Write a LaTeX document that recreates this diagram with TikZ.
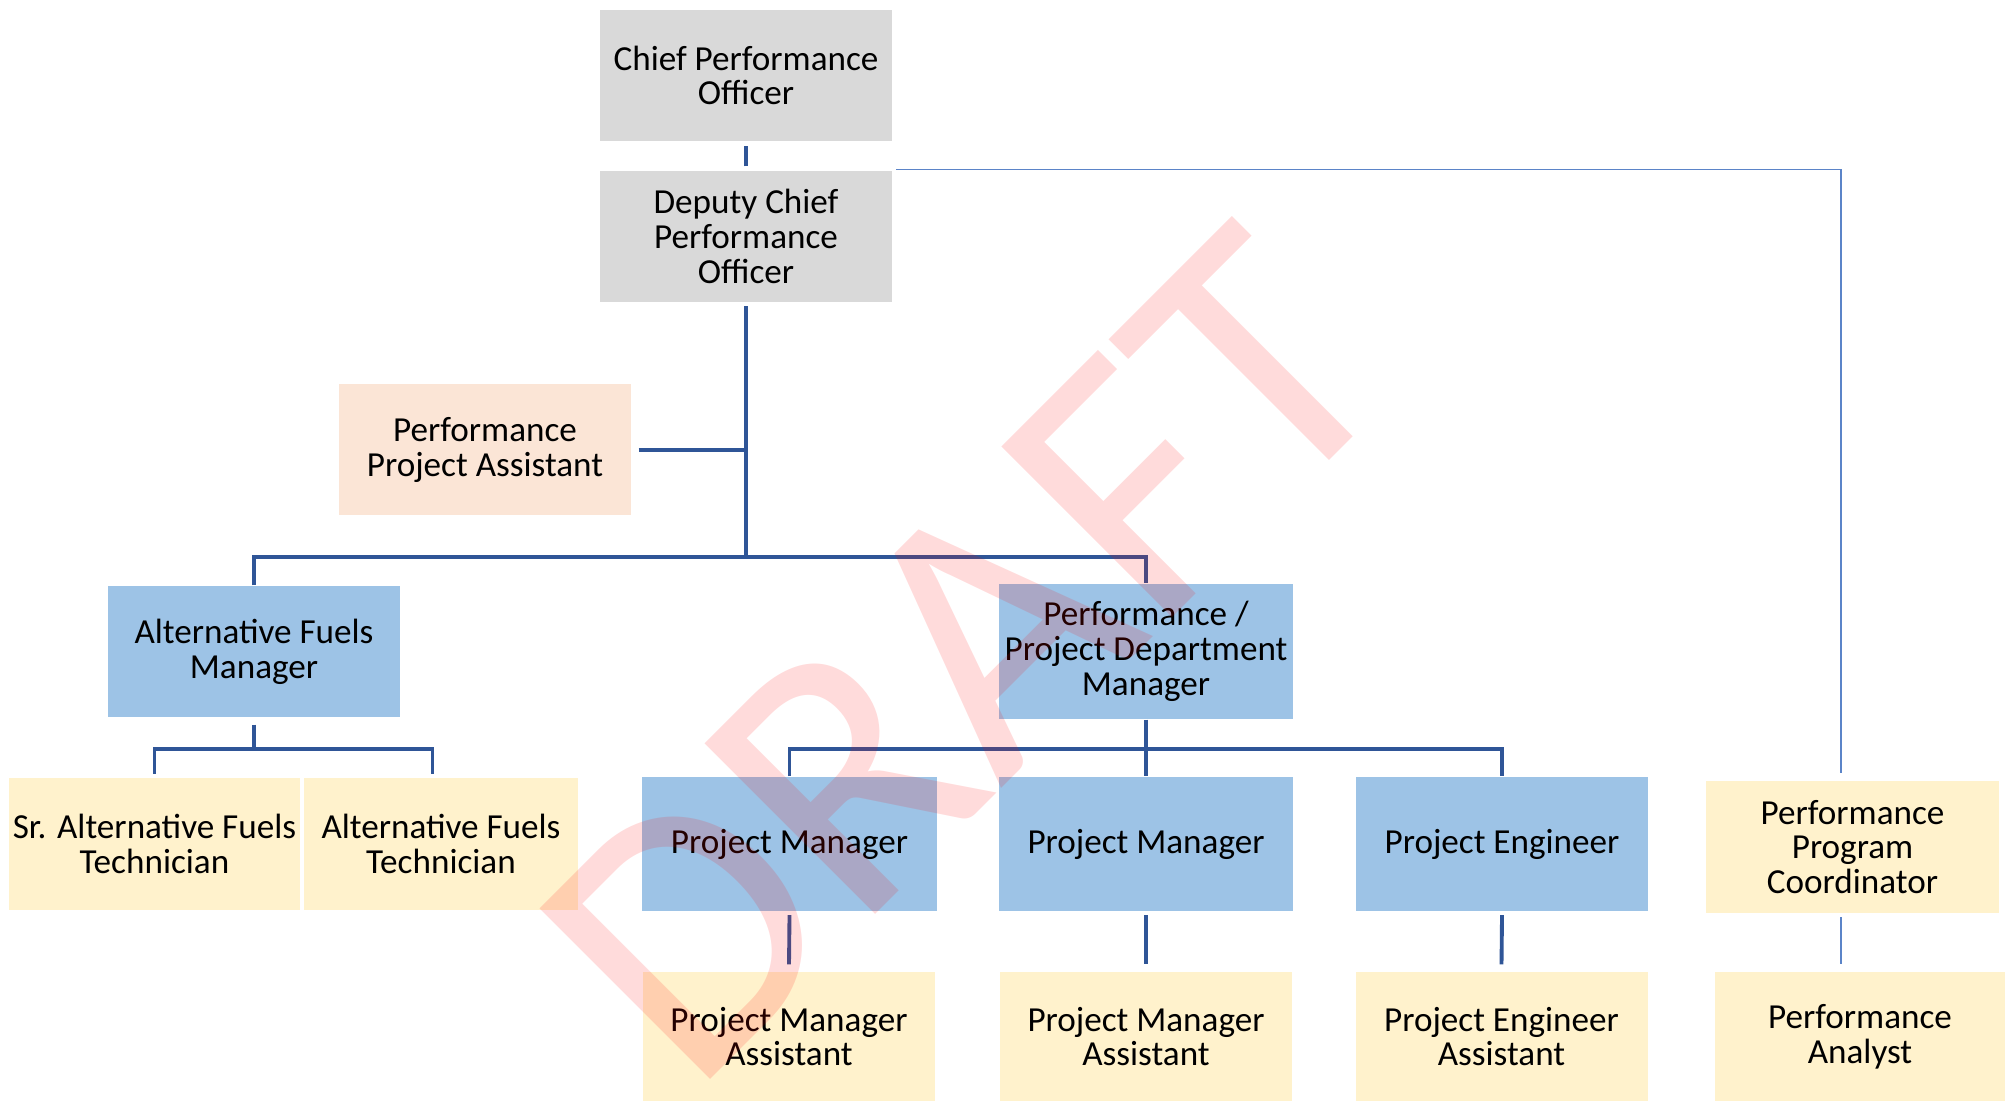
\documentclass[tikz,border=0pt]{standalone}
\usepackage{fontspec}
\setmainfont{Carlito}
\usepackage{tikz}
\usetikzlibrary{calc, positioning}
\definecolor{boxgray}{HTML}{D9D9D9}
\definecolor{boxpeach}{HTML}{FBE5D6}
\definecolor{boxblue}{HTML}{9DC3E6}
\definecolor{boxyellow}{HTML}{FFF2CC}
\definecolor{linkblue}{HTML}{2F5597}
\definecolor{assistblue}{HTML}{5B84C8}

\begin{document}
\begin{tikzpicture}[
  box/.style={rectangle, minimum width=2.92cm, minimum height=1.31cm,
              inner sep=1pt, align=center,
              font=\fontsize{10}{9.9}\selectfont},
  link/.style={draw=linkblue, line width=1.1pt},
  assist/.style={draw=assistblue, line width=0.45pt}
]
  \useasboundingbox (0,0) rectangle (20.13,-11.04);

  % top of the chart
  \node[box, fill=boxgray]   (cpo)  at (7.46,-0.755)  {Chief Performance\\Officer};
  \node[box, fill=boxgray]   (dcpo) at (7.46,-2.365)  {Deputy Chief\\Performance\\Officer};
  \node[box, fill=boxpeach]  (ppa)  at (4.85,-4.50)   {Performance\\Project Assistant};

  % managers
  \node[box, fill=boxblue]   (afm)  at (2.54,-6.515)  {Alternative Fuels\\Manager};
  \node[box, fill=boxblue, minimum width=2.94cm, minimum height=1.35cm]
                             (ppdm) at (11.46,-6.515) {Performance /\\Project Department\\Manager};

  % technicians
  \node[box, fill=boxyellow, minimum width=2.89cm] (srt) at (1.545,-8.44) {Sr. Alternative Fuels\\Technician};
  \node[box, fill=boxyellow, minimum width=2.74cm] (aft) at (4.41,-8.44)  {Alternative Fuels\\Technician};

  % project staff
  \node[box, fill=boxblue, minimum width=2.95cm, minimum height=1.34cm] (pm1) at (7.895,-8.44) {Project Manager};
  \node[box, fill=boxblue, minimum width=2.94cm, minimum height=1.34cm] (pm2) at (11.46,-8.44) {Project Manager};
  \node[box, fill=boxblue, minimum width=2.92cm, minimum height=1.34cm] (pe)  at (15.02,-8.44) {Project Engineer};

  \node[box, fill=boxyellow, minimum height=1.29cm] (pma1) at (7.89,-10.365)   {Project Manager\\Assistant};
  \node[box, fill=boxyellow, minimum height=1.29cm] (pma2) at (11.46,-10.365)  {Project Manager\\Assistant};
  \node[box, fill=boxyellow, minimum height=1.29cm] (pea)  at (15.015,-10.365) {Project Engineer\\Assistant};

  % program side
  \node[box, fill=boxyellow, minimum width=2.93cm, minimum height=1.32cm] (ppc) at (18.525,-8.47) {Performance\\Program\\Coordinator};
  \node[box, fill=boxyellow, minimum width=2.90cm, minimum height=1.29cm] (pa)  at (18.60,-10.365) {Performance\\Analyst};

  % bus points
  \coordinate (busTop) at (7.46,-5.57);
  \coordinate (busAF)  at (2.54,-7.49);
  \coordinate (busPD)  at (11.46,-7.49);
  \coordinate (corner) at (18.41,-1.695);

  % connectors
  \draw[link] ([yshift=-7pt]cpo.south) -- ([yshift=7pt]dcpo.north);
  \draw[link] ([yshift=-1pt]dcpo.south) -- (busTop);
  \draw[link] ([xshift=2pt]ppa.east) -- (ppa.east -| dcpo.south);
  \draw[link] (afm.north) |- (busTop) -| (ppdm.north);

  \draw[link] ([yshift=-2pt]afm.south) -- (busAF);
  \draw[link] ([yshift=1.2pt]srt.north) |- (busAF) -| ([xshift=-0.085cm,yshift=1.2pt]aft.north);

  \draw[link] (ppdm.south) -- (busPD);
  \draw[link] (pm1.north) |- (busPD) -| (pe.north);
  \draw[link] (busPD) -- (pm2.north);

  \draw[link] ([yshift=-1pt]pm1.south) -- ([yshift=2pt]pma1.north);
  \draw[link] ([yshift=-1pt]pm2.south) -- ([yshift=2pt]pma2.north);
  \draw[link] ([yshift=-1pt]pe.south)  -- ([yshift=2pt]pea.north);

  \draw[assist] ([xshift=1pt]dcpo.north east |- corner) -- (corner)
                -- ([yshift=2pt]corner |- ppc.north);
  \draw[assist] ([yshift=-1pt]corner |- ppc.south) -- ([yshift=2pt]corner |- pa.north);

  % watermark
  \node[rotate=45, text=red, text opacity=0.14, inner sep=0pt,
        font=\fontsize{107}{107}\selectfont] (draft) at (9.64,-6.55) {DRAFT};
\end{tikzpicture}
\end{document}
